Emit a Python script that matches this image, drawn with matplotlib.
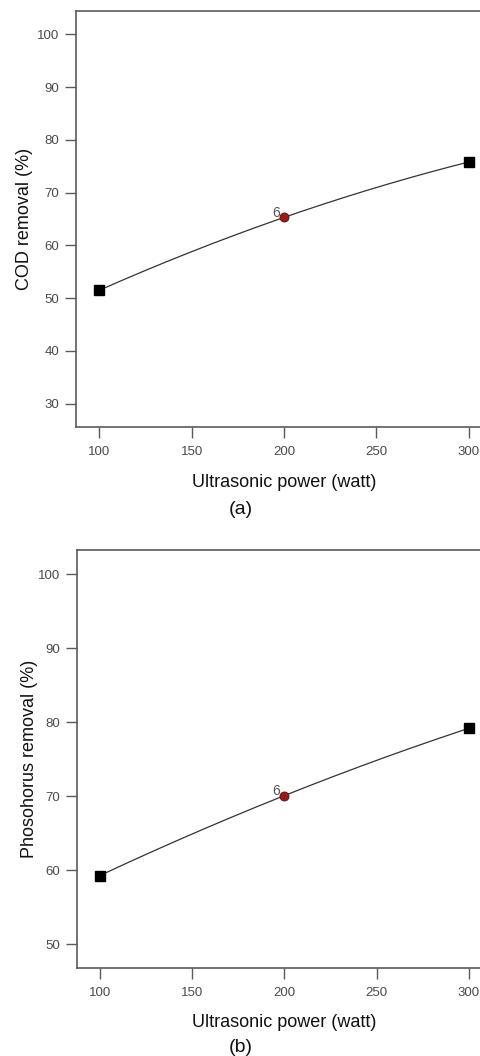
import numpy as np
import matplotlib
matplotlib.use("Agg")
import matplotlib.pyplot as plt

plt.rcParams['font.family'] = ['Liberation Sans', 'DejaVu Sans']

# Ultrasonic power levels (watt)
power = [100, 200, 300]
power_ticks = [100, 150, 200, 250, 300]

# Predicted removal efficiencies (%)
cod_removal = [51.5, 65.3, 75.8]
phos_removal = [59.3, 70.1, 79.2]

cod_yticks = [30, 40, 50, 60, 70, 80, 90, 100]
phos_yticks = [50, 60, 70, 80, 90, 100]

center_label = "6"

W, H = 481, 1056
fig = plt.figure(figsize=(W / 100, H / 100), dpi=100)

spine_col = "#5a5a5a"
tick_col = "#4a4a4a"


def draw_panel(ax, y, yticks, ylim, ylabel, ylabelpad):
    x = np.array(power, dtype=float)
    yv = np.array(y, dtype=float)
    coef = np.polyfit(x, yv, 2)
    xs = np.linspace(x.min(), x.max(), 200)
    ax.plot(xs, np.polyval(coef, xs), color="#333333", lw=0.9, zorder=2)
    ax.plot([x[0], x[-1]], [yv[0], yv[-1]], ls="none", marker="s",
            ms=6.5, color="black", zorder=3)
    ax.plot([x[1]], [yv[1]], ls="none", marker="o", ms=6.5,
            markerfacecolor="#9b1b1b", markeredgecolor="#5a0d0d", mew=0.6, zorder=3)
    ax.annotate(center_label, (x[1], yv[1]), xytext=(-6, -2),
                textcoords="offset points", ha="center", va="bottom",
                fontsize=10, color="#555555")
    ax.set_xlim(87.4, 312.6)
    ax.set_ylim(*ylim)
    ax.set_xticks(power_ticks)
    ax.set_yticks(yticks)
    for s in ax.spines.values():
        s.set_color(spine_col)
        s.set_linewidth(1.2)
    ax.tick_params(direction="out", length=8, width=1.0, color=spine_col,
                   labelcolor=tick_col, labelsize=9.5)
    ax.tick_params(axis="x", pad=6)
    ax.tick_params(axis="y", pad=4)
    ax.set_ylabel(ylabel, fontsize=13, color="#111111", labelpad=ylabelpad)
    ax.set_xlabel("Ultrasonic power (watt)", fontsize=13, color="#111111", labelpad=11)


ax1 = fig.add_axes([76 / W, 1 - 427 / H, (492 - 76) / W, (427 - 11) / H])
draw_panel(ax1, cod_removal, cod_yticks, (25.6, 104.4), "COD removal (%)", 3)
fig.text(0.5, 1 - 510 / H, "(a)", ha="center", va="center", fontsize=14, color="#111111")

ax2 = fig.add_axes([76.7 / W, 1 - 967.7 / H, (492 - 76.7) / W, (967.7 - 550) / H])
draw_panel(ax2, phos_removal, phos_yticks, (46.84, 103.3), "Phosohorus removal (%)", 0)
fig.text(0.5, 1 - 1047 / H, "(b)", ha="center", va="center", fontsize=14, color="#111111")

fig.savefig("out.png", dpi=100)
